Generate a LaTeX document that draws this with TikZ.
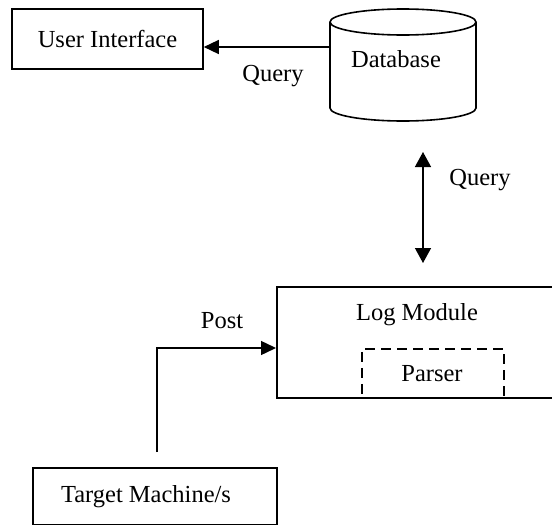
\documentclass[tikz,border=0pt]{standalone}
\usepackage{fontspec}
\setmainfont{Liberation Serif}
\usetikzlibrary{arrows.meta}
\begin{document}
\begin{tikzpicture}[x=1pt,y=-1pt,
  every node/.style={font=\fontsize{24.5}{28}\selectfont, inner sep=0pt},
  box/.style={draw, line width=1.6pt},
  lbl/.style={},
  arr/.style={line width=1.4pt, -{Triangle[length=15pt,width=14pt]}},
  darr/.style={line width=1.4pt, {Triangle[length=15pt,width=16pt]}-{Triangle[length=15pt,width=16pt]}},
  dashbox/.style={draw, line width=1.6pt, dash pattern=on 10pt off 6pt}]
\useasboundingbox (0,0) rectangle (552,525);
\clip (0,0) rectangle (552,525);
% User Interface
\node[box, minimum width=191pt, minimum height=60pt] (ui) at (107.5,39) {User Interface};
% Database cylinder
\node[minimum width=146pt, minimum height=112pt] (db) at (403,65) {};
\draw[line width=1.6pt] (330,22) -- (330,108) arc[start angle=180, end angle=360, x radius=73pt, y radius=13pt] -- (476,22);
\draw[line width=1.6pt] (403,22) ellipse[x radius=73pt, y radius=13pt];
\node[lbl] (dbl) at (396,59) {Database};
% Arrow db -> ui
\draw[arr] (db.west |- 0,47) -- (ui.east |- 0,47);
\node[lbl] (q1) at (273,76) {Query};
% Log Module
\node[box, minimum width=290pt, minimum height=111pt, anchor=north west] (lm) at (276,286) {};
\node[lbl] (lml) at (417,315) {Log Module};
\node[dashbox, minimum width=142pt, minimum height=49pt, anchor=north west] (ps) at (361,348) {};
\node[lbl] (psl) at (432,374) {Parser};
% double arrow
\coordinate (da1) at (423,152);
\coordinate (da2) at (423,263);
\draw[darr] (da1) -- (da2);
\node[lbl] (q2) at (480,180) {Query};
% Target machine
\node[box, minimum width=244pt, minimum height=57pt, anchor=north west] (tm) at (32,467) {};
\node[lbl] (tml) at (146,497) {Target Machine/s};
% Post connector
\coordinate (ps0) at (157,452);
\draw[arr] (ps0) -- (157,348) -- (lm.west |- 0,348);
\node[lbl] (post) at (222,321) {Post};
\end{tikzpicture}
\end{document}
